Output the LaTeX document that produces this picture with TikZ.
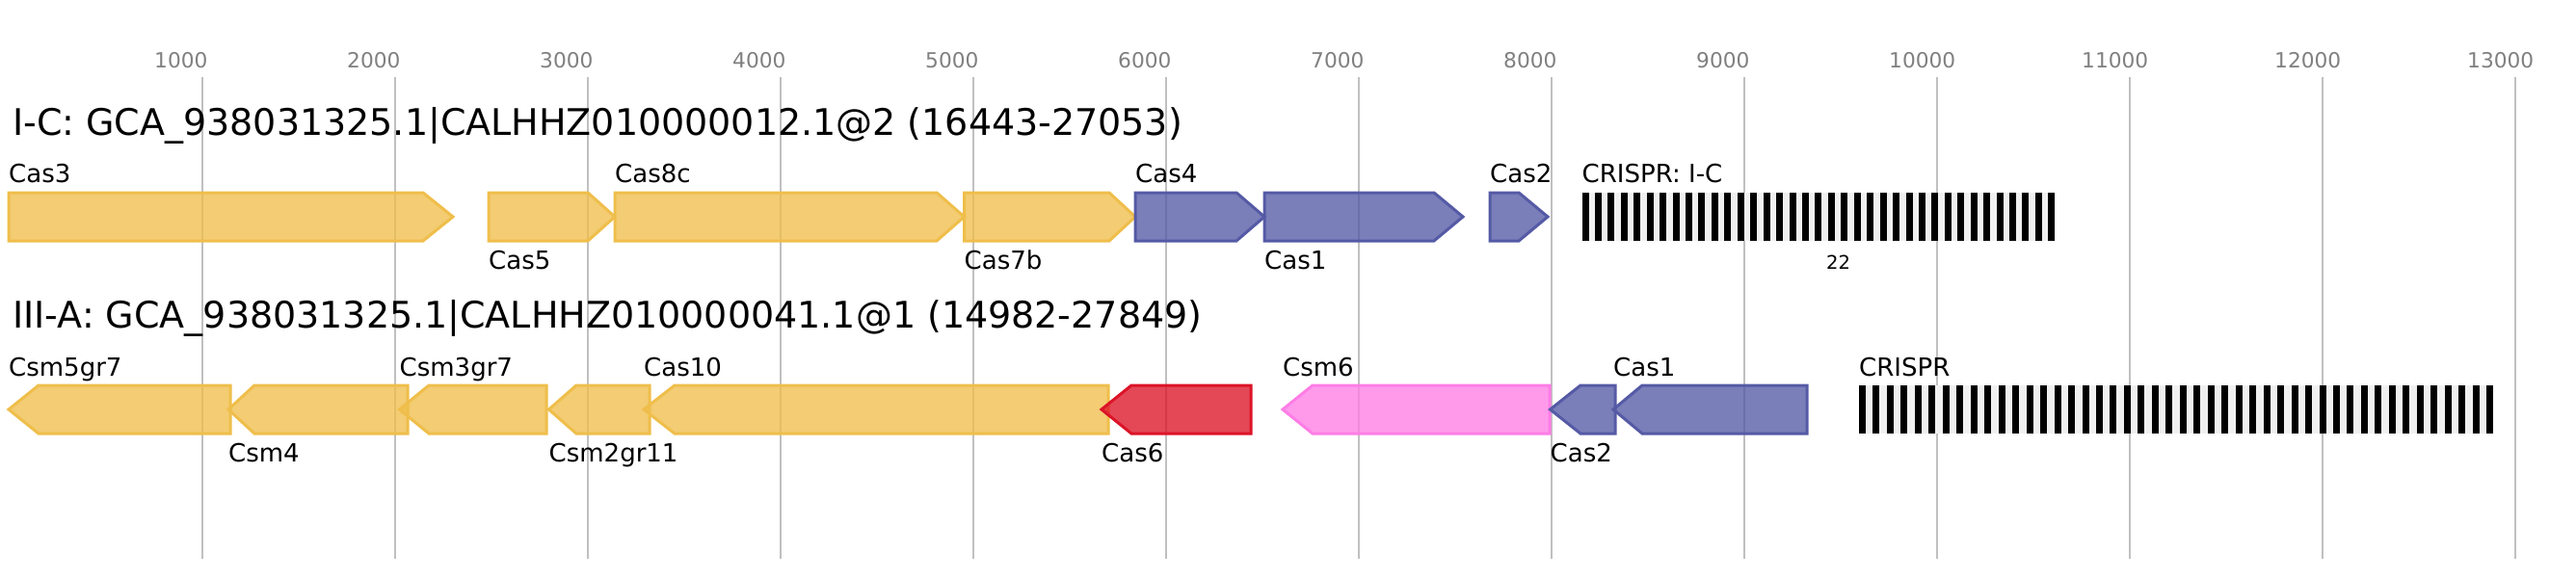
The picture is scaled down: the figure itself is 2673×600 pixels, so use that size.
\documentclass[tikz,border=0pt]{standalone}
\usepackage{fontspec}
\setmainfont{DejaVu Sans}
\usepackage{tikz}
\usetikzlibrary{arrows,positioning}

\definecolor{casyellow}{RGB}{239,190,75}
\definecolor{casblue}{RGB}{85,90,165}
\definecolor{casred}{RGB}{220,20,40}
\definecolor{caspink}{RGB}{255,125,230}
\definecolor{gridgray}{RGB}{192,192,192}
\definecolor{arraygray}{RGB}{240,240,240}
\definecolor{tickgray}{RGB}{128,128,128}

\begin{document}
\begin{tikzpicture}[x=1pt,y=-1pt,
		gridline/.style={draw=gridgray,line width=2pt},
		ticklabel/.style={anchor=base west,inner sep=0pt,text=tickgray,font=\fontsize{21.7}{24}\selectfont},
		locus/.style={anchor=base west,inner sep=0pt,font=\fontsize{38}{40}\selectfont},
		genelabel/.style={anchor=base west,inner sep=0pt,font=\fontsize{26}{28}\selectfont},
		countlabel/.style={anchor=base west,inner sep=0pt,font=\fontsize{19.5}{21}\selectfont},
		gene/.style={line width=3pt,line join=miter,fill opacity=0.78},
		yellowgene/.style={gene,draw=casyellow,fill=casyellow},
		bluegene/.style={gene,draw=casblue,fill=casblue},
		redgene/.style={gene,draw=casred,fill=casred},
		pinkgene/.style={gene,draw=caspink,fill=caspink}]
	\useasboundingbox (0,0) rectangle (2673,600);

	% axis
	\foreach \k in {1,...,13}
		{
		\pgfmathtruncatemacro{\bp}{\k*1000}
		\draw[gridline] ({10+200*\k},80) -- ({10+200*\k},580);
		\node[ticklabel] (tick\k) at ({10+200*\k-50},70) {\bp};
		}

	% I-C
	\node[locus] (titleIC) at (13,140) {I-C: GCA\_938031325.1|CALHHZ010000012.1@2 (16443-27053)};
	\draw[yellowgene] (9,200) -- (439,200) -- (470,225) -- (439,250) -- (9,250) -- cycle;
	\draw[yellowgene] (507,200) -- (610,200) -- (638,225) -- (610,250) -- (507,250) -- cycle;
	\draw[yellowgene] (638,200) -- (972,200) -- (1000.5,225) -- (972,250) -- (638,250) -- cycle;
	\draw[yellowgene] (1000.5,200) -- (1151,200) -- (1178,225) -- (1151,250) -- (1000.5,250) -- cycle;
	\draw[bluegene] (1178,200) -- (1283,200) -- (1312,225) -- (1283,250) -- (1178,250) -- cycle;
	\draw[bluegene] (1312,200) -- (1488,200) -- (1518,225) -- (1488,250) -- (1312,250) -- cycle;
	\draw[bluegene] (1546,200) -- (1576,200) -- (1606,225) -- (1576,250) -- (1546,250) -- cycle;
	\fill[arraygray] (1641.5,200) rectangle (2132.5,250);
	\foreach \i in {0,...,36}
		\fill[black] ({1641.5+13.44*\i},200) rectangle ++(7,50);
	\node[genelabel] (cas3a) at (9,189) {Cas3};
	\node[genelabel] (cas5a) at (507,279) {Cas5};
	\node[genelabel] (cas8ca) at (638,189) {Cas8c};
	\node[genelabel] (cas7ba) at (1000.5,279) {Cas7b};
	\node[genelabel] (cas4a) at (1178,189) {Cas4};
	\node[genelabel] (cas1a) at (1312,279) {Cas1};
	\node[genelabel] (cas2a) at (1546,189) {Cas2};
	\node[genelabel] (crisprIC) at (1641.5,189) {CRISPR: I-C};
	\node[countlabel] (countIC) at (1895,279.5) {22};

	% III-A
	\node[locus] (titleIIIA) at (13,340) {III-A: GCA\_938031325.1|CALHHZ010000041.1@1 (14982-27849)};
	\draw[yellowgene] (9,425) -- (40,400) -- (239,400) -- (239,450) -- (40,450) -- cycle;
	\draw[yellowgene] (237,425) -- (264,400) -- (423,400) -- (423,450) -- (264,450) -- cycle;
	\draw[yellowgene] (414.5,425) -- (445,400) -- (567,400) -- (567,450) -- (445,450) -- cycle;
	\draw[yellowgene] (569.5,425) -- (598,400) -- (674,400) -- (674,450) -- (598,450) -- cycle;
	\draw[yellowgene] (668,425) -- (700,400) -- (1150,400) -- (1150,450) -- (700,450) -- cycle;
	\draw[redgene] (1143,425) -- (1174,400) -- (1298,400) -- (1298,450) -- (1174,450) -- cycle;
	\draw[pinkgene] (1331,425) -- (1362,400) -- (1608,400) -- (1608,450) -- (1362,450) -- cycle;
	\draw[bluegene] (1608.5,425) -- (1640,400) -- (1676,400) -- (1676,450) -- (1640,450) -- cycle;
	\draw[bluegene] (1674,425) -- (1704,400) -- (1875,400) -- (1875,450) -- (1704,450) -- cycle;
	\fill[arraygray] (1929,400) rectangle (2587,450);
	\foreach \i in {0,...,45}
		\fill[black] ({1929+14.47*\i},400) rectangle ++(7,50);
	\node[genelabel] (csm5b) at (9,390) {Csm5gr7};
	\node[genelabel] (csm4b) at (237,479) {Csm4};
	\node[genelabel] (csm3b) at (414.5,390) {Csm3gr7};
	\node[genelabel] (csm2b) at (569.5,479) {Csm2gr11};
	\node[genelabel] (cas10b) at (668,390) {Cas10};
	\node[genelabel] (cas6b) at (1143,479) {Cas6};
	\node[genelabel] (csm6b) at (1331,390) {Csm6};
	\node[genelabel] (cas2b) at (1608.5,479) {Cas2};
	\node[genelabel] (cas1b) at (1674,390) {Cas1};
	\node[genelabel] (crisprIIIA) at (1929,390) {CRISPR};
\end{tikzpicture}
\end{document}
